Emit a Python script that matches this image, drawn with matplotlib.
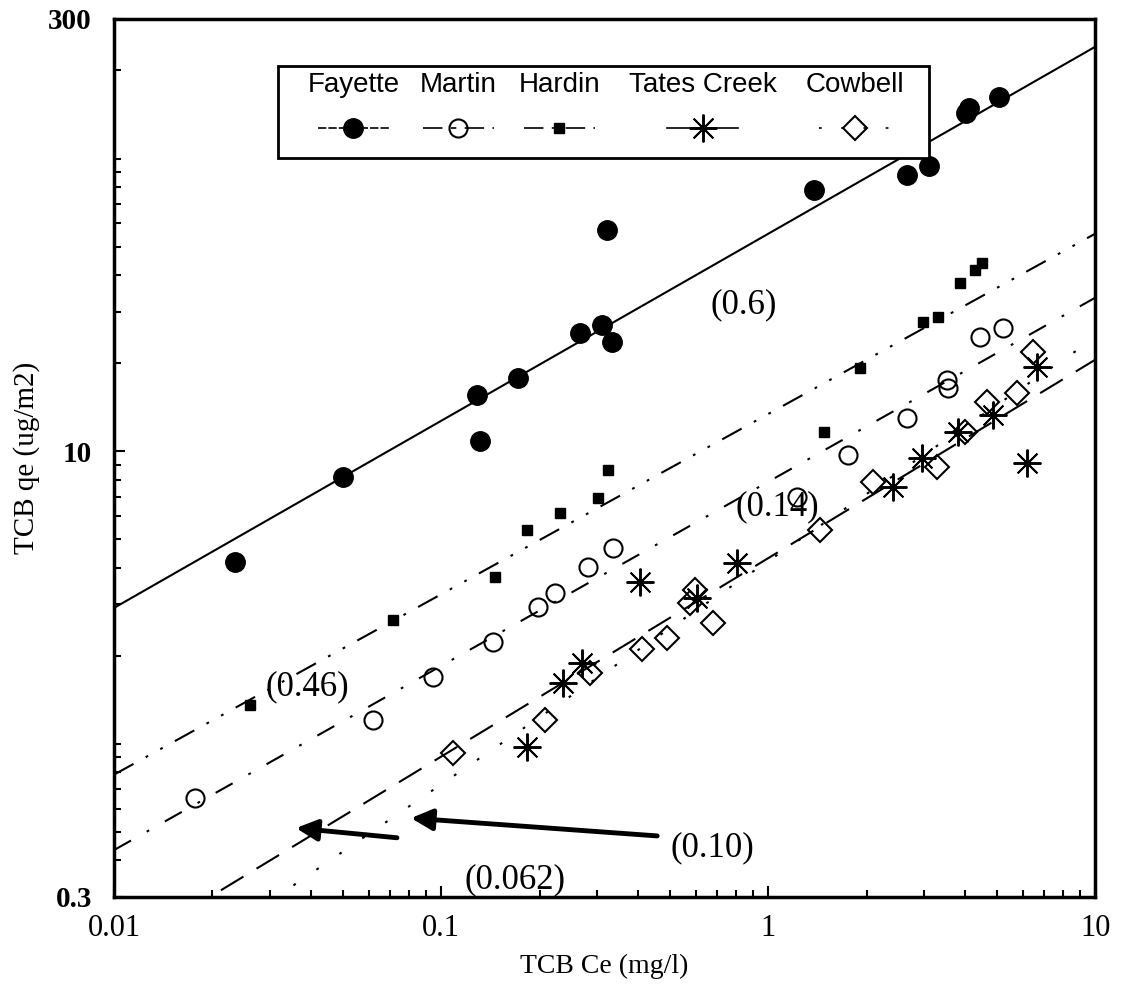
import matplotlib.pyplot as plt
import numpy as np
from matplotlib.patches import Rectangle
from matplotlib.ticker import FixedLocator, NullFormatter

plt.rcParams['lines.scale_dashes'] = False

series_names = ['Fayette', 'Martin', 'Hardin', 'Tates Creek', 'Cowbell']

# equilibrium data: Ce (mg/l), qe (ug/m2)
fayette_ce = [0.0234, 0.0501, 0.129, 0.132, 0.172, 0.266, 0.310, 0.333, 0.322,
              1.38, 2.66, 3.11, 4.03, 4.12, 5.09]
fayette_qe = [4.19, 8.17, 15.6, 10.8, 17.8, 25.4, 27.0, 23.6, 57.0,
              78.1, 87.9, 94.4, 143, 149, 162]

martin_ce = [0.0177, 0.0619, 0.0946, 0.144, 0.198, 0.223, 0.282, 0.336,
             1.23, 1.75, 2.66, 3.52, 3.55, 4.45, 5.24]
martin_qe = [0.654, 1.21, 1.69, 2.23, 2.94, 3.28, 4.03, 4.67,
             6.98, 9.71, 13.0, 17.5, 16.5, 24.6, 26.4]

hardin_ce = [0.0261, 0.0713, 0.146, 0.183, 0.231, 0.302, 0.324, 1.48, 1.91,
             2.98, 3.31, 3.86, 4.30, 4.51]
hardin_qe = [1.36, 2.65, 3.72, 5.38, 6.16, 6.93, 8.63, 11.6, 19.3,
             27.7, 28.8, 37.6, 41.6, 44.0]

tates_ce = [0.183, 0.236, 0.270, 0.406, 0.607, 0.804, 2.41, 2.96, 3.81,
            4.88, 6.19, 6.65]
tates_qe = [0.977, 1.62, 1.89, 3.58, 3.15, 4.15, 7.55, 9.49, 11.6,
            13.3, 9.12, 19.4]

cowbell_ce = [0.109, 0.208, 0.286, 0.412, 0.491, 0.577, 0.598, 0.679, 1.44,
              2.09, 3.29, 4.00, 4.68, 5.77, 6.46]
cowbell_qe = [0.931, 1.21, 1.75, 2.11, 2.30, 3.03, 3.36, 2.59, 5.38,
              7.86, 8.84, 11.6, 14.7, 15.8, 21.8]

# Freundlich fits qe = K * Ce**n
fit_k = [55.3, 7.86, 13.4, 4.31, 4.21]
fit_n = [0.639, 0.629, 0.616, 0.678, 0.763]

slope_labels = ['(0.6)', '(0.46)', '(0.14)', '(0.10)', '(0.062)']

ce_data = [fayette_ce, martin_ce, hardin_ce, tates_ce, cowbell_ce]
qe_data = [fayette_qe, martin_qe, hardin_qe, tates_qe, cowbell_qe]

styles = [
    dict(marker='o', ms=14, mfc='black', mec='black', mew=1),
    dict(marker='o', ms=13, mfc='none', mec='black', mew=1.5),
    dict(marker='s', ms=6.5, mfc='black', mec='black', mew=1),
    dict(marker=(8, 2, 0), ms=20, mfc='black', mec='black', mew=1.4),
    dict(marker='D', ms=12.5, mfc='none', mec='black', mew=1.5),
]
line_styles = ['-', (0, (14, 13, 2, 13)), (0, (16, 10, 2, 10, 2, 10)),
               (0, (19, 11)), (0, (2, 18))]
legend_styles = [(0, (6, 1.5)), (0, (14, 6, 4, 6)), (0, (14, 6, 4, 6)),
                 '-', (0, (2, 14))]

fig = plt.figure(figsize=(11.29, 9.94), dpi=100)
ax = fig.add_axes([0.101, 0.0976, 0.869, 0.8834])
ax.set_xscale('log')
ax.set_yscale('log')
ax.set_xlim(0.01, 10)
ax.set_ylim(0.3, 300)

x_fit = np.logspace(-2, 1, 60)
for i in range(5):
    ax.plot(x_fit, fit_k[i] * x_fit ** fit_n[i], color='black', lw=1.5,
            linestyle=line_styles[i], zorder=1)
    ax.plot(ce_data[i], qe_data[i], linestyle='none', zorder=2, **styles[i])

# legend box, text above the symbols
ax.add_patch(Rectangle((0.167, 0.842), 0.664, 0.104, transform=ax.transAxes,
                       facecolor='white', edgecolor='black', lw=2, zorder=3))
leg_x = [0.244, 0.351, 0.454, 0.600, 0.755]
for i, name in enumerate(series_names):
    ax.text(leg_x[i], 0.925, name, transform=ax.transAxes, ha='center', va='center',
            fontsize=20, family='Liberation Sans', zorder=4)
    ax.plot([leg_x[i] - 0.036, leg_x[i], leg_x[i] + 0.036], [0.876] * 3,
            transform=ax.transAxes, color='black', lw=1.2, linestyle=legend_styles[i],
            markevery=[1], zorder=4, clip_on=False, **styles[i])

txt = dict(fontsize=25, family='Liberation Serif', ha='center', va='center')
ax.text(0.845, 31.6, slope_labels[0], **txt)
ax.text(0.0389, 1.57, slope_labels[1], **txt)
ax.text(1.065, 6.46, slope_labels[2], **txt)
ax.text(0.675, 0.442, slope_labels[3], **txt)
ax.text(0.168, 0.343, slope_labels[4], **txt)
arrow = dict(arrowstyle='-|>', lw=3.5, color='black', mutation_scale=32,
             shrinkA=0, shrinkB=0)
ax.annotate('', xy=(0.0809, 0.558), xytext=(0.458, 0.485), arrowprops=arrow)
ax.annotate('', xy=(0.0360, 0.516), xytext=(0.0733, 0.478), arrowprops=arrow)

# axes and ticks
ax.xaxis.set_major_locator(FixedLocator([0.01, 0.1, 1, 10]))
ax.set_xticklabels(['0.01', '0.1', '1', '10'], family='Liberation Serif', fontsize=22)
ax.yaxis.set_major_locator(FixedLocator([0.3, 10, 300]))
ax.set_yticklabels(['0.3', '10', '300'], family='Liberation Serif', fontsize=21,
                   fontweight='bold')
minor_y = [m * 10.0 ** e for e in range(-1, 3) for m in range(1, 10)]
minor_x = [m * 10.0 ** e for e in range(-2, 1) for m in range(1, 10)]
ax.yaxis.set_minor_locator(FixedLocator(minor_y))
ax.xaxis.set_minor_locator(FixedLocator(minor_x))
ax.xaxis.set_minor_formatter(NullFormatter())
ax.yaxis.set_minor_formatter(NullFormatter())
ax.tick_params(which='both', direction='in', top=False, right=False, width=1.5)
ax.tick_params(which='major', length=8)
ax.tick_params(which='minor', length=5)
ax.tick_params(axis='x', which='major', pad=12)
ax.tick_params(axis='y', which='major', pad=16)
for s in ax.spines.values():
    s.set_linewidth(2.5)

ax.set_xlabel('TCB Ce (mg/l)', family='Liberation Serif', fontsize=20, labelpad=8)
ax.set_ylabel('TCB qe (ug/m2)', family='Liberation Serif', fontsize=21, labelpad=6)

fig.savefig('out.png', dpi=100)
